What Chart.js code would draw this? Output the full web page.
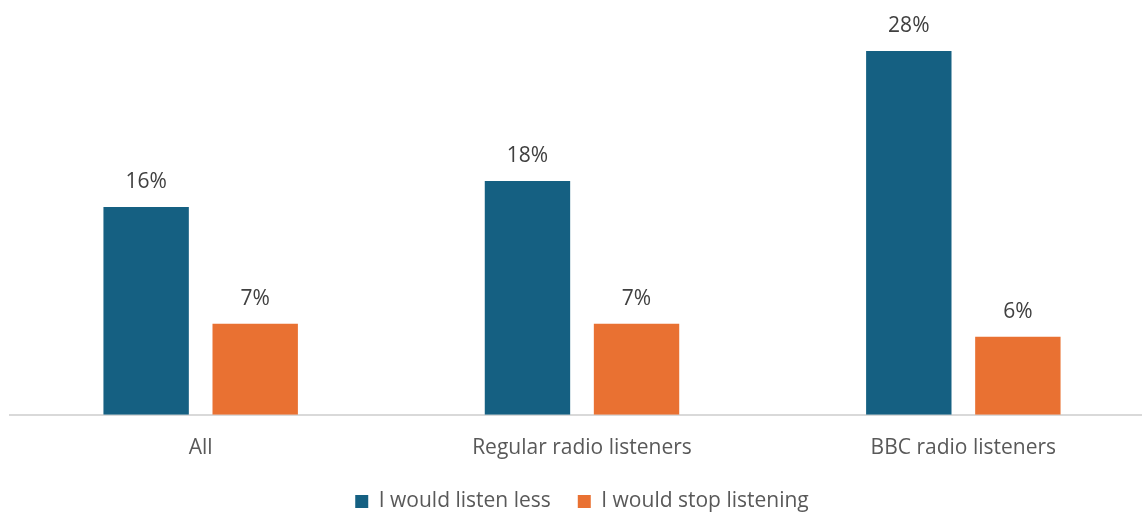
<!DOCTYPE html>
<html>
<head>
<meta charset="utf-8">
<script src="https://cdn.jsdelivr.net/npm/chart.js@4.4.1/dist/chart.umd.min.js"></script>
<style>
  html, body { margin: 0; padding: 0; background: #ffffff; overflow: hidden; }
  #wrap { width: 1142px; height: 512px; overflow: hidden; position: relative; }
  canvas { display: block; }
</style>
</head>
<body>
<div id="wrap"><canvas id="chart" width="1154" height="512"></canvas></div>
<script>
// Survey responses by audience group (percent of respondents)
const categories = ['All', 'Regular radio listeners', 'BBC radio listeners'];
const listenLess = [16, 18, 28];
const stopListening = [7, 7, 6];
const seriesNames = ['I would listen less', 'I would stop listening'];

const FONT = "'Open Sans', 'Noto Sans', sans-serif";
const FONT_SIZE = 21;

// Writes each bar's value above it
const valueLabels = {
  id: 'valueLabels',
  afterDatasetsDraw(chart) {
    const ctx = chart.ctx;
    ctx.save();
    ctx.font = FONT_SIZE + 'px ' + FONT;
    ctx.fillStyle = '#404040';
    ctx.textAlign = 'center';
    ctx.textBaseline = 'alphabetic';
    chart.data.datasets.forEach((ds, di) => {
      const meta = chart.getDatasetMeta(di);
      meta.data.forEach((bar, i) => {
        ctx.fillText(Math.round(ds.data[i]) + '%', bar.x, bar.y - 19);
      });
    });
    ctx.restore();
  }
};

new Chart(document.getElementById('chart'), {
  type: 'bar',
  data: {
    labels: categories,
    datasets: [
      { label: seriesNames[0], data: listenLess, backgroundColor: '#156082' },
      { label: seriesNames[1], data: stopListening, backgroundColor: '#E97132' }
    ]
  },
  options: {
    responsive: false,
    animation: false,
    devicePixelRatio: 1,
    categoryPercentage: 0.572,
    barPercentage: 0.783,
    layout: { padding: { left: 10, right: 0, top: 25, bottom: -10 } },
    plugins: {
      legend: {
        position: 'bottom',
        labels: {
          boxWidth: 13,
          boxHeight: 13,
          padding: 27,
          color: '#595959',
          font: { family: FONT, size: FONT_SIZE }
        }
      },
      tooltip: { enabled: false }
    },
    scales: {
      x: {
        grid: { display: false, drawTicks: false },
        border: { display: true, color: '#D9D9D9', width: 2 },
        ticks: {
          color: '#595959',
          padding: 20.5,
          font: { family: FONT, size: FONT_SIZE }
        },
        // tighten the band between the category names and the legend
        afterFit(scale) { scale.height -= 17; }
      },
      y: {
        display: false,
        min: 0,
        max: 30
      }
    }
  },
  plugins: [valueLabels]
});
</script>
</body>
</html>
